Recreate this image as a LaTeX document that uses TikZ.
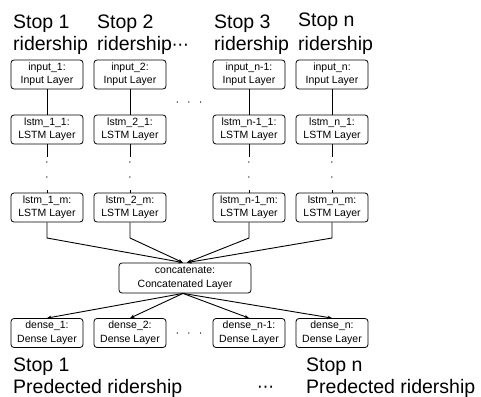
\documentclass[tikz,border=0pt]{standalone}
\usepackage{fontspec}
\setmainfont{Liberation Sans}
\newfontfamily\dejavu{DejaVu Sans}
\usetikzlibrary{arrows.meta}
\begin{document}
\begin{tikzpicture}[x=1pt,y=-1pt,
  layer/.style={draw,line width=0.8pt,rounded corners=3pt,minimum width=72pt,minimum height=29pt,inner sep=0pt,align=center,font=\fontsize{10.5}{13.5}\selectfont},
  biglabel/.style={anchor=base west,inner sep=0pt,font=\fontsize{19.5}{23}\selectfont},
  conn/.style={line width=0.9pt},
  arr/.style={line width=0.9pt,-{Stealth[length=4.5pt,width=3.5pt]}},
  vdot/.style={inner sep=0pt,font=\fontsize{11}{11}\selectfont},
  hdots/.style={inner sep=0pt,font=\fontsize{11}{11}\selectfont}
]
\useasboundingbox (0,0) rectangle (481,396);
\fill[white] (0,0) rectangle (481,396);

% top labels
\node[biglabel] (t1a) at (13,29) {Stop 1};
\node[biglabel] (t1b) at (13,51) {ridership};
\node[biglabel] (t2a) at (97,29) {Stop 2};
\node[biglabel] (t2b) at (97,51) {ridership{\dejavu\fontsize{17}{17}\selectfont ⋯}};
\node[biglabel] (t3a) at (214,29) {Stop 3};
\node[biglabel] (t3b) at (214,51) {ridership};
\node[biglabel] (t4a) at (298,27) {Stop n};
\node[biglabel] (t4b) at (298,51) {ridership};

% columns
\foreach \c/\x/\lab in {1/47/1,2/130/2,3/249/n-1,4/332/n}{
  \node[layer] (in\c) at (\x,74.5) {input\_\lab:\\Input Layer};
  \node[layer] (la\c) at (\x,129.5) {lstm\_\lab\_1:\\LSTM Layer};
  \node[layer] (lm\c) at (\x,207.5) {lstm\_\lab\_m:\\LSTM Layer};
  \node[layer] (de\c) at (\x,333) {dense\_\lab:\\Dense Layer};
  \coordinate (da\c) at (\x,157);
  \coordinate (db\c) at (\x,190);
  \coordinate (bend\c) at (\x,238);
  \node[vdot] (v1\c) at (\x,164) {·};
  \node[vdot] (v2\c) at (\x,179) {·};
  \draw[conn] (in\c) -- (la\c);
  \draw[conn] (la\c) -- (da\c);
  \draw[conn] (db\c) -- (lm\c);
}

\node[hdots] (hd1) at (189,104) {·\hspace{8pt}·\hspace{8pt}·};
\node[hdots] (hd2) at (189,335) {·\hspace{8pt}·\hspace{8pt}·};

\node[layer,minimum width=132pt,minimum height=30pt] (cat) at (185,278) {concatenate:\\Concatenated Layer};

\draw[arr] (lm1) -- (bend1) -- ([xshift=-2pt]cat.north);
\draw[arr] (lm2) -- (bend2) -- ([xshift=-2pt]cat.north);
\draw[arr] (lm3) -- (bend3) -- ([xshift=2pt]cat.north);
\draw[arr] (lm4) -- (bend4) -- ([xshift=2pt]cat.north);

\foreach \c in {1,2,3,4}{
  \draw[arr] ([xshift=-2pt]cat.south) -- (de\c.north);
}

% bottom labels
\node[biglabel] (b1a) at (13,371) {Stop 1};
\node[biglabel] (b1b) at (13,393) {Predected ridership};
\node[biglabel] (b4a) at (306,371) {Stop n};
\node[biglabel] (b4b) at (306,393) {Predected ridership};
\node[biglabel] (bdots) at (257,392) {{\dejavu\fontsize{17}{17}\selectfont ⋯}};
\end{tikzpicture}
\end{document}
